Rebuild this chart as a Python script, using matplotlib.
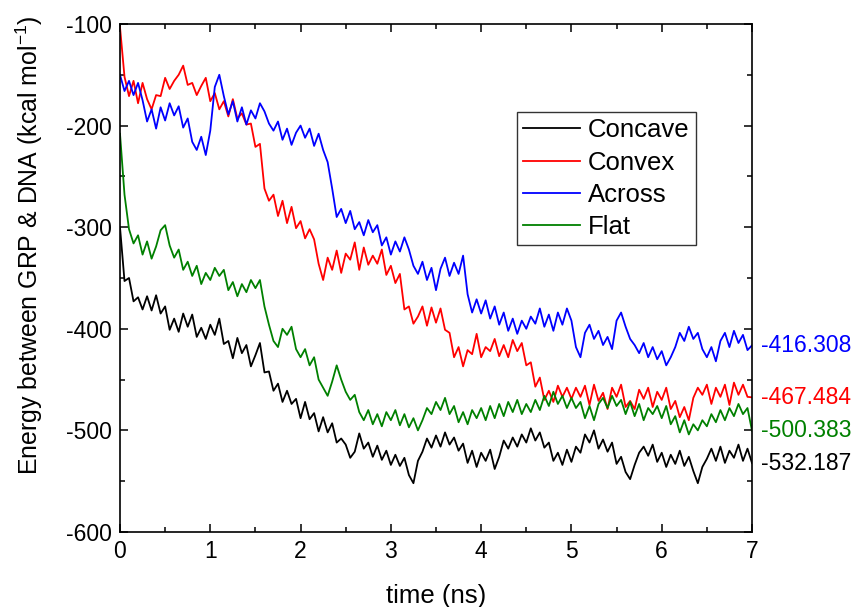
import numpy as np
import matplotlib
matplotlib.use("Agg")
import matplotlib.pyplot as plt
from matplotlib.ticker import MultipleLocator
import matplotlib.transforms as mtransforms

plt.rcParams['font.family'] = ['Liberation Sans', 'DejaVu Sans']
plt.rcParams['mathtext.default'] = 'regular'
plt.rcParams['axes.unicode_minus'] = False

# sampling times (ns), one value every 0.05 ns
time_ns = np.round(np.arange(0, 7.0001, 0.05), 2)

concave = [
    -300, -353, -350, -373, -369, -381, -368, -382, -367, -385,
    -378, -401, -390, -403, -385, -398, -386, -408, -399, -410,
    -396, -406, -390, -415, -412, -429, -409, -424, -416, -437,
    -426, -414, -443, -442, -461, -454, -472, -461, -474, -469,
    -488, -472, -489, -483, -501, -487, -502, -493, -512, -508,
    -514, -527, -521, -503, -518, -512, -526, -515, -529, -520,
    -534, -524, -535, -527, -544, -552, -530, -521, -508, -517,
    -505, -516, -502, -514, -507, -520, -513, -532, -520, -536,
    -522, -530, -519, -538, -526, -510, -518, -507, -516, -504,
    -512, -498, -510, -502, -517, -512, -530, -522, -534, -519,
    -531, -516, -522, -504, -512, -500, -518, -509, -521, -512,
    -533, -526, -541, -548, -534, -522, -516, -525, -514, -531,
    -522, -536, -524, -533, -520, -535, -526, -540, -552, -536,
    -528, -518, -530, -516, -532, -520, -527, -514, -530, -518,
    -532.187,
]

convex = [
    -103, -152, -171, -156, -178, -158, -174, -184, -170, -171,
    -153, -164, -156, -150, -141, -160, -158, -170, -161, -153,
    -176, -168, -184, -176, -191, -174, -193, -188, -199, -198,
    -221, -218, -262, -274, -268, -289, -274, -296, -280, -301,
    -294, -311, -302, -312, -336, -352, -330, -342, -323, -345,
    -326, -332, -315, -342, -320, -337, -328, -336, -322, -347,
    -338, -355, -346, -381, -378, -395, -388, -378, -397, -379,
    -394, -380, -401, -404, -428, -418, -437, -421, -425, -405,
    -428, -418, -422, -410, -427, -416, -428, -411, -422, -414,
    -436, -433, -457, -448, -470, -461, -472, -456, -467, -458,
    -469, -458, -467, -456, -475, -455, -471, -463, -479, -458,
    -467, -455, -477, -471, -479, -460, -469, -458, -477, -462,
    -470, -458, -479, -471, -487, -477, -490, -468, -458, -465,
    -455, -474, -458, -467, -455, -475, -453, -465, -455, -467,
    -467.484,
]

across = [
    -150, -166, -156, -170, -158, -175, -196, -184, -203, -182,
    -195, -178, -190, -181, -202, -193, -216, -224, -211, -229,
    -205, -162, -150, -171, -189, -176, -196, -182, -199, -185,
    -193, -178, -186, -198, -205, -196, -214, -203, -219, -207,
    -200, -212, -203, -220, -208, -224, -236, -262, -290, -282,
    -296, -284, -302, -295, -308, -293, -305, -298, -318, -310,
    -327, -314, -324, -310, -322, -338, -346, -334, -352, -340,
    -362, -341, -330, -348, -335, -346, -328, -366, -384, -371,
    -385, -372, -390, -378, -396, -384, -402, -390, -405, -392,
    -400, -388, -395, -380, -398, -386, -402, -384, -396, -380,
    -392, -418, -428, -404, -396, -410, -402, -416, -408, -420,
    -392, -384, -398, -410, -416, -424, -414, -428, -418, -430,
    -422, -436, -428, -418, -404, -412, -398, -410, -404, -420,
    -428, -418, -432, -412, -404, -418, -402, -414, -406, -421,
    -416.308,
]

flat = [
    -208, -268, -302, -316, -308, -327, -314, -331, -319, -303,
    -298, -318, -330, -322, -342, -334, -348, -338, -356, -345,
    -352, -340, -348, -342, -362, -354, -368, -356, -364, -352,
    -360, -352, -378, -396, -412, -418, -400, -406, -398, -420,
    -428, -420, -436, -428, -450, -458, -466, -452, -436, -450,
    -462, -470, -465, -482, -490, -480, -494, -484, -496, -482,
    -490, -480, -495, -484, -497, -488, -500, -490, -478, -484,
    -472, -480, -468, -484, -476, -492, -482, -494, -480, -488,
    -478, -490, -476, -488, -474, -486, -472, -482, -470, -484,
    -474, -482, -470, -480, -466, -476, -462, -474, -466, -478,
    -468, -478, -472, -488, -476, -490, -474, -468, -478, -466,
    -476, -470, -484, -472, -486, -474, -490, -478, -484, -476,
    -488, -476, -494, -486, -502, -490, -504, -494, -500, -490,
    -496, -484, -492, -480, -490, -478, -486, -474, -484, -478,
    -500.383,
]

series_names = ["Concave", "Convex", "Across", "Flat"]
series_values = [concave, convex, across, flat]
series_colors = ["#000000", "#FF0000", "#0000FF", "#008000"]

fig = plt.figure(figsize=(8.62, 6.07), dpi=100)
ax = fig.add_axes([0.1392, 0.1236, 0.7332, 0.8369])

for name, vals, col in zip(series_names, series_values, series_colors):
    ax.plot(time_ns, vals, color=col, lw=1.3, label=name)

ax.set_xlim(0, 7)
ax.set_ylim(-600, -100)
ax.xaxis.set_major_locator(MultipleLocator(1))
ax.xaxis.set_minor_locator(MultipleLocator(0.5))
ax.yaxis.set_major_locator(MultipleLocator(100))
ax.yaxis.set_minor_locator(MultipleLocator(50))
ax.tick_params(which='both', direction='in', top=True, right=True, width=1.1)
ax.tick_params(which='major', length=6, labelsize=16.5, pad=6)
ax.tick_params(which='minor', length=3.5)
for sp in ax.spines.values():
    sp.set_linewidth(1.2)

ax.set_xlabel("time (ns)", fontsize=18.5, labelpad=15)
ax.set_ylabel("Energy between GRP & DNA (kcal mol$^{-1}$)", fontsize=17.9)
ax.yaxis.set_label_coords(-0.118, 0.565)

# final-value labels just outside the right spine
trans = mtransforms.blended_transform_factory(ax.transAxes, ax.transData)
for vals, col in zip(series_values, series_colors):
    last = vals[-1]
    ax.text(1.015, last, f"{last:.3f}", color=col, fontsize=16.5,
            transform=trans, ha='left', va='center', clip_on=False)

leg = ax.legend(loc='upper left', bbox_to_anchor=(0.628, 0.827), borderaxespad=0,
                fontsize=18.5, frameon=True, fancybox=False, edgecolor='black',
                handlelength=2.2, handletextpad=0.3, labelspacing=0.32,
                borderpad=0.25)
leg.get_frame().set_linewidth(1.0)

fig.savefig("out.png", dpi=100)
